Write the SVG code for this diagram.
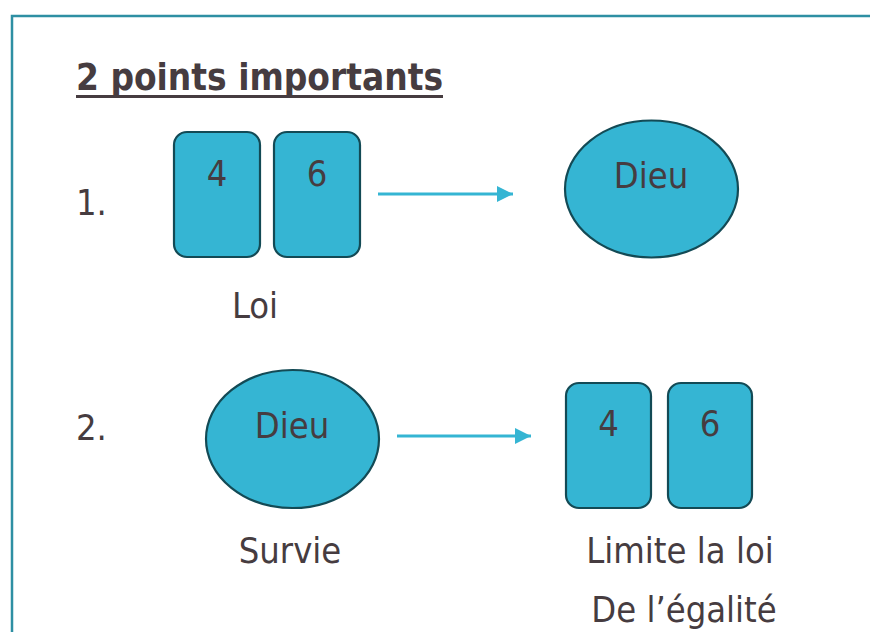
<svg xmlns="http://www.w3.org/2000/svg" width="870" height="632" viewBox="0 0 870 632">
  <style>
    .t { font-family: "DejaVu Sans Condensed", "DejaVu Sans", Verdana, sans-serif; font-size: 36px; fill: #463c40; }
    .c { text-anchor: middle; }
    .card { fill: #35b5d3; stroke: #134a55; stroke-width: 2.2; }
    .oval { fill: #35b5d3; stroke: #134a55; stroke-width: 2.2; }
    .conn { stroke: #35b5d3; stroke-width: 3; fill: none; marker-end: url(#ah); }
  </style>
  <defs>
    <marker id="ah" markerUnits="userSpaceOnUse" markerWidth="17" markerHeight="16" refX="16" refY="8" orient="auto">
      <path d="M0,0 L16,8 L0,16 Z" fill="#35b5d3"/>
    </marker>
  </defs>
  <rect width="870" height="632" fill="#ffffff"/>
  <path d="M12,632 L12,16 L870,16" fill="none" stroke="#2e8fa3" stroke-width="2.5"/>
  <text class="t" x="76" y="90" style="font-weight:bold; font-size:38px" textLength="367" lengthAdjust="spacingAndGlyphs">2 points importants</text>
  <line x1="76" y1="96.5" x2="443" y2="96.5" stroke="#463c40" stroke-width="3"/>

  <text class="t" x="76" y="215">1.</text>
  <g id="card1-4">
    <rect class="card" x="174" y="132" width="86" height="125" rx="13"/>
    <text class="t c" x="217" y="186">4</text>
  </g>
  <g id="card1-6">
    <rect class="card" x="274" y="132" width="86" height="125" rx="13"/>
    <text class="t c" x="317" y="186">6</text>
  </g>
  <text class="t c" x="255" y="318">Loi</text>
  <g id="dieu1">
    <ellipse class="oval" cx="651.5" cy="189" rx="86.5" ry="68.5"/>
    <text class="t c" x="651" y="188">Dieu</text>
  </g>

  <text class="t" x="76" y="440">2.</text>
  <g id="dieu2">
    <ellipse class="oval" cx="292.5" cy="439" rx="86.5" ry="69"/>
    <text class="t c" x="292" y="438">Dieu</text>
  </g>
  <text class="t c" x="290" y="563">Survie</text>
  <g id="card2-4">
    <rect class="card" x="566" y="383" width="85" height="125" rx="13"/>
    <text class="t c" x="608.5" y="436">4</text>
  </g>
  <g id="card2-6">
    <rect class="card" x="668" y="383" width="84" height="125" rx="13"/>
    <text class="t c" x="710" y="436">6</text>
  </g>
  <text class="t c" x="680" y="563">Limite la loi</text>
  <text class="t c" x="684" y="622">De l’égalité</text>

  <g id="connectors">
    <line class="conn" x1="378" y1="194" x2="513" y2="194"/>
    <line class="conn" x1="397" y1="436" x2="531" y2="436"/>
  </g>
</svg>
